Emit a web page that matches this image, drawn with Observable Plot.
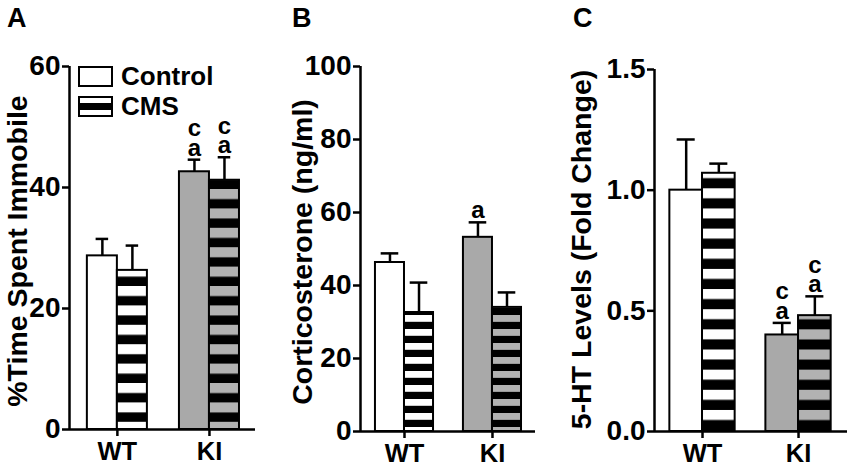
<!DOCTYPE html>
<html><head><meta charset="utf-8">
<script src="https://cdn.jsdelivr.net/npm/d3@7"></script>
<script src="https://cdn.jsdelivr.net/npm/@observablehq/plot@0.6"></script>
<style>
body{margin:0;background:#fff;}
#wrap{position:relative;width:850px;height:465px;font-family:"Liberation Sans",Arial,sans-serif;font-weight:bold;}
#wrap svg{position:absolute;top:0;overflow:visible;}
</style></head><body><div id="wrap"></div>
<script>
// ---- data ----
const groups = ["WT", "KI"];
const conditions = ["Control", "CMS"];
// order: WT-Control, WT-CMS, KI-Control, KI-CMS
const immobileMean = [28.7, 26.3, 42.6, 41.2];
const immobileSem  = [2.8, 4.1, 2.0, 3.8];
const immobileSig  = ["", "", "c\na", "c\na"];
const corticoMean  = [46.3, 32.6, 53.2, 34.0];
const corticoSem   = [2.5, 8.2, 4.1, 4.1];
const corticoSig   = ["", "", "a", ""];
const htMean       = [1.00, 1.07, 0.40, 0.48];
const htSem        = [0.21, 0.04, 0.05, 0.08];
const htSig        = ["", "", "c\na", "c\na"];
const ticksA = [0, 20, 40, 60];
const ticksB = [0, 20, 40, 60, 80, 100];
const ticksC = [0, 0.5, 1.0, 1.5];
const titleA = "%Time Spent Immobile";
const titleB = "Corticosterone (ng/ml)";
const titleC = "5-HT Levels (Fold Change)";
const panelLetters = ["A", "B", "C"];

const GRAY = "#a9a9a9";
const wrap = document.getElementById("wrap");
const NS = "http://www.w3.org/2000/svg";

function addPattern(svg, id, period, lightH, phase, light) {
  let defs = svg.querySelector("defs");
  if (!defs) { defs = document.createElementNS(NS, "defs"); svg.insertBefore(defs, svg.firstChild); }
  const p = document.createElementNS(NS, "pattern");
  p.setAttribute("id", id); p.setAttribute("patternUnits", "userSpaceOnUse");
  p.setAttribute("x", 0); p.setAttribute("y", phase);
  p.setAttribute("width", 10); p.setAttribute("height", period);
  const r1 = document.createElementNS(NS, "rect");
  r1.setAttribute("x", 0); r1.setAttribute("y", 0); r1.setAttribute("width", 10); r1.setAttribute("height", lightH); r1.setAttribute("fill", light);
  const r2 = document.createElementNS(NS, "rect");
  r2.setAttribute("x", 0); r2.setAttribute("y", lightH); r2.setAttribute("width", 10); r2.setAttribute("height", period - lightH); r2.setAttribute("fill", "#000");
  p.appendChild(r1); p.appendChild(r2); defs.appendChild(p);
}

function panel(cfg) {
  const rows = groups.flatMap((g, gi) => conditions.map((c, ci) => ({
    group: g, gi, condition: c, ci,
    mean: cfg.mean[gi * 2 + ci], sem: cfg.sem[gi * 2 + ci], sig: cfg.sig[gi * 2 + ci]
  })));
  const w = cfg.barW;
  const x1 = d => d.gi - (d.ci === 0 ? w : 0);
  const x2 = d => d.gi + (d.ci === 0 ? 0 : w);
  const xc = d => d.gi + (d.ci === 0 ? -w / 2 : w / 2);
  const fills = {"0-0": "white", "1-0": GRAY, "0-1": `url(#${cfg.id}-s0)`, "1-1": `url(#${cfg.id}-s1)`};
  const bars = Object.entries(fills).map(([k, f]) => {
    const [gi, ci] = k.split("-").map(Number);
    return Plot.rect(rows.filter(d => d.gi === gi && d.ci === ci),
      {x1, x2, y1: 0, y2: "mean", fill: f, stroke: "black", strokeWidth: 2});
  });
  const bold = {fontWeight: "bold", fontFamily: "Liberation Sans, Arial, sans-serif"};
  const svg = Plot.plot({
    width: cfg.width, height: 465,
    marginLeft: cfg.ml, marginRight: cfg.mr, marginTop: cfg.mt, marginBottom: cfg.mb,
    style: {background: "transparent", fontFamily: "Liberation Sans, Arial, sans-serif"},
    x: {type: "linear", domain: cfg.xDomain},
    y: {domain: cfg.yDomain},
    marks: [
      ...bars,
      Plot.ruleX(rows, {x: xc, y1: "mean", y2: d => d.mean + d.sem, strokeWidth: 2.5}),
      Plot.ruleY(rows, {y: d => d.mean + d.sem, x1: d => xc(d) - cfg.cap, x2: d => xc(d) + cfg.cap, strokeWidth: 2.5}),
      Plot.text(rows, {x: xc, y: d => d.mean + d.sem, text: "sig", lineAnchor: "bottom", dy: -4, fontSize: 24, lineHeight: 0.82, ...bold}),
      Plot.ruleY([0], {strokeWidth: 2.5}),
      Plot.ruleX([cfg.xDomain[0]], {y1: cfg.yDomain[0], y2: cfg.yDomain[1], strokeWidth: 2.5}),
      Plot.axisY({ticks: cfg.ticks, tickFormat: cfg.fmt, tickSize: 7, tickPadding: 2, fontSize: 28, strokeWidth: 2.5, label: null, ...bold}),
      Plot.axisX({ticks: [0, 1], tickFormat: i => groups[i], tickSize: 7, tickPadding: 5, fontSize: 25.5, strokeWidth: 2.5, label: null, ...bold}),
      Plot.text([cfg.title], {frameAnchor: "left", textAnchor: "middle", rotate: -90, dx: cfg.titleDx, dy: cfg.titleDy, fontSize: 28.5, ...bold})
    ]
  });
  addPattern(svg, `${cfg.id}-s0`, cfg.period, cfg.lightH, cfg.phase, "white");
  addPattern(svg, `${cfg.id}-s1`, cfg.period, cfg.lightH, cfg.phase, "#b2b2b2");
  svg.style.left = cfg.left + "px";
  wrap.appendChild(svg);
}

panel({id: "pA", left: 0, width: 260, ml: 69, mr: 5, mt: 66, mb: 36,
  xDomain: [-0.52, 1.5], yDomain: [0, 60], barW: 0.326, cap: 0.068,
  mean: immobileMean, sem: immobileSem, sig: immobileSig, ticks: ticksA, fmt: d3.format("d"),
  title: titleA, titleDx: -52, titleDy: 3, period: 19.4, lightH: 10, phase: 286});
panel({id: "pB", left: 280, width: 260, ml: 80, mr: 5, mt: 66, mb: 34,
  xDomain: [-0.5, 1.489], yDomain: [0, 100], barW: 0.33, cap: 0.1,
  mean: corticoMean, sem: corticoSem, sig: corticoSig, ticks: ticksB, fmt: d3.format("d"),
  title: titleB, titleDx: -58, titleDy: 3, period: 14, lightH: 6.8, phase: 315});
panel({id: "pC", left: 560, width: 290, ml: 94, mr: 3, mt: 69, mb: 34,
  xDomain: [-0.5, 1.51], yDomain: [0, 1.5], barW: 0.34, cap: 0.094,
  mean: htMean, sem: htSem, sig: htSig, ticks: ticksC, fmt: d3.format(".1f"),
  title: titleC, titleDx: -73, titleDy: -1, period: 20.15, lightH: 10, phase: 188.3});

// overlay: panel letters + legend
const ov = document.createElementNS(NS, "svg");
ov.setAttribute("width", 850); ov.setAttribute("height", 465);
ov.style.left = "0px"; ov.style.pointerEvents = "none";
ov.setAttribute("font-family", "Liberation Sans, Arial, sans-serif");
ov.setAttribute("font-weight", "bold");
const letterX = [7, 292, 573];
panelLetters.forEach((L, i) => {
  const t = document.createElementNS(NS, "text");
  t.setAttribute("x", letterX[i]); t.setAttribute("y", 27); t.setAttribute("font-size", 27);
  t.textContent = L; ov.appendChild(t);
});
ov.insertAdjacentHTML("beforeend", `
  <rect x="79" y="67" width="33" height="19" fill="white" stroke="black" stroke-width="2"/>
  <rect x="79" y="97" width="33" height="19" fill="white" stroke="black" stroke-width="2"/>
  <rect x="80" y="103" width="31" height="7" fill="black"/>
  <text x="121" y="85" font-size="26">${conditions[0]}</text>
  <text x="121" y="115" font-size="26">${conditions[1]}</text>`);
wrap.appendChild(ov);
</script></body></html>
